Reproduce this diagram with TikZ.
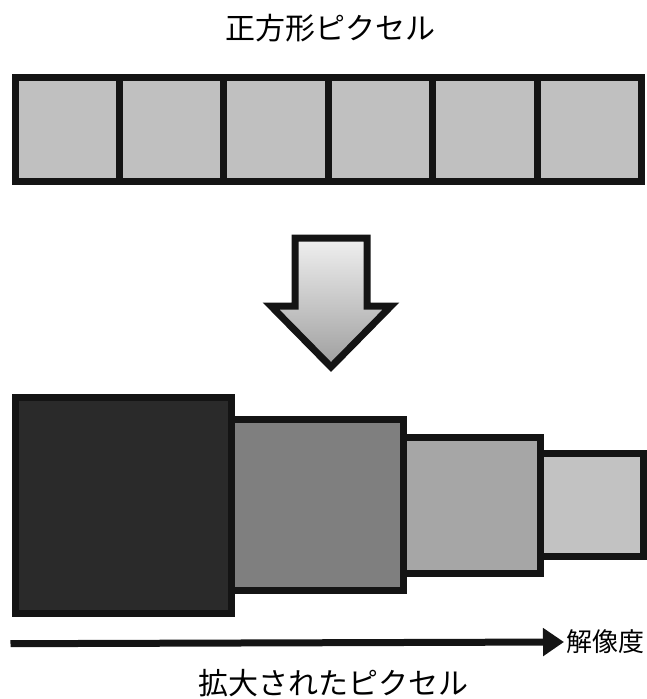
\documentclass[tikz,border=0pt]{standalone}
\usepackage{fontspec}
\newfontfamily\jpfont{Noto Sans CJK JP}
\usetikzlibrary{arrows.meta}
\definecolor{edge}{HTML}{141414}
\definecolor{cellgray}{HTML}{C0C0C0}
\definecolor{boxA}{HTML}{2A2A2A}
\definecolor{boxB}{HTML}{7F7F7F}
\definecolor{boxC}{HTML}{A6A6A6}
\definecolor{boxD}{HTML}{C2C2C2}
\tikzset{
  pix/.style={draw=edge, line width=7pt, line join=miter},
  title/.style={font=\jpfont\fontsize{30}{36}\selectfont, text=black, inner sep=0pt},
  axislabel/.style={font=\jpfont\fontsize{26}{30}\selectfont, text=black, inner sep=0pt, anchor=west},
}
\begin{document}
\begin{tikzpicture}[x=1pt,y=-1pt]
\useasboundingbox (0,0) rectangle (647,699);
% title
\node[title] (toptitle) at (330,28) {正方形ピクセル};
% top row of square pixels
\draw[pix, fill=cellgray] (15,77.5) rectangle (641.5,181.5);
\foreach \xx in {119.4,223.8,328.2,432.6,537} {
  \draw[pix] (\xx,77.5) -- (\xx,181.5);
}
% big down arrow
\shadedraw[draw=edge, line width=7pt, line join=miter, top color=white!94!black, bottom color=white!62!black]
  (295,238) -- (367,238) -- (367,306) -- (391,306) -- (331,367) -- (271,306) -- (295,306) -- cycle;
% enlarged pixels
\draw[pix, fill=boxD] (540,453.5) rectangle (643.5,556);
\draw[pix, fill=boxC] (403.5,437.5) rectangle (540,573.5);
\draw[pix, fill=boxB] (225,419.5) rectangle (403,590.5);
\draw[pix, fill=boxA] (15.5,397) rectangle (231.5,613.5);
% resolution axis
\coordinate (axstart) at (10.5,643.7);
\node[axislabel] (axlabel) at (566,642) {解像度};
\draw[edge, line width=7pt, -{Triangle[length=21pt,width=27pt]}, fill=edge] (axstart) -- (axlabel.west -| 564,0) ;
% bottom title
\node[title] (bottitle) at (333,683) {拡大されたピクセル};
\end{tikzpicture}
\end{document}
